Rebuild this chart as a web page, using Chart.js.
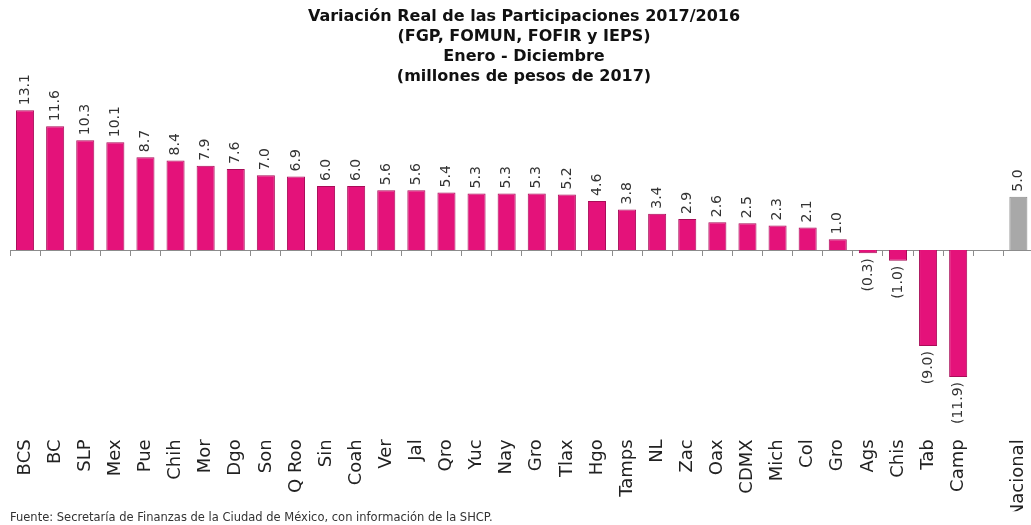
<!DOCTYPE html>
<html>
<head>
<meta charset="utf-8">
<script src="https://cdn.jsdelivr.net/npm/chart.js@4.4.1/dist/chart.umd.min.js"></script>
<style>
    html, body { margin: 0; padding: 0; background: #fff; overflow: hidden; }
    #chart { display: block; }
</style>
</head>
<body>
<canvas id="chart" width="1040" height="525"></canvas>
<script>
// estados (hueco vacio antes de Nacional)
const estados = ['BCS', 'BC', 'SLP', 'Mex', 'Pue', 'Chih', 'Mor', 'Dgo', 'Son', 'Q Roo',
    'Sin', 'Coah', 'Ver', 'Jal', 'Qro', 'Yuc', 'Nay', 'Gro', 'Tlax', 'Hgo',
    'Tamps', 'NL', 'Zac', 'Oax', 'CDMX', 'Mich', 'Col', 'Gro', 'Ags', 'Chis',
    'Tab', 'Camp', '', 'Nacional'];

const variacion = [13.1, 11.6, 10.3, 10.1, 8.7, 8.4, 7.9, 7.6, 7.0, 6.9,
    6.0, 6.0, 5.6, 5.6, 5.4, 5.3, 5.3, 5.3, 5.2, 4.6,
    3.8, 3.4, 2.9, 2.6, 2.5, 2.3, 2.1, 1.0, -0.3, -1.0,
    -9.0, -11.9, null, 5.0];

const titulo = [
    'Variación Real de las Participaciones 2017/2016',
    '(FGP, FOMUN, FOFIR y IEPS)',
    'Enero - Diciembre',
    '(millones de pesos de 2017)'
];
const fuente = 'Fuente: Secretaría de Finanzas de la Ciudad de México, con información de la SHCP.';

const rosa = '#E4127A';
const rosaBorde = '#A80C58';
const gris = '#A8A8A8';
const grisBorde = '#8A8A8A';

let colores = [];
let bordes = [];
for (let i = 0; i < estados.length; i++) {
    let nacional = estados[i] === 'Nacional';
    colores.push(nacional ? gris : rosa);
    bordes.push(nacional ? grisBorde : rosaBorde);
}

function formato(v) {
    return v < 0 ? '(' + Math.abs(v).toFixed(1) + ')' : v.toFixed(1);
}

// etiquetas de valor giradas sobre / bajo cada barra
const etiquetas = {
    id: 'etiquetas',
    afterDatasetsDraw(chart) {
        const ctx = chart.ctx;
        const meta = chart.getDatasetMeta(0);
        ctx.save();
        ctx.font = '14px "DejaVu Sans"';
        ctx.fillStyle = '#333';
        ctx.textBaseline = 'middle';
        meta.data.forEach((bar, i) => {
            let v = variacion[i];
            if (v === null) return;
            ctx.save();
            if (v >= 0) {
                ctx.translate(bar.x, bar.y - 5);
                ctx.rotate(-Math.PI / 2);
                ctx.textAlign = 'left';
            } else {
                ctx.translate(bar.x, bar.y + 5);
                ctx.rotate(-Math.PI / 2);
                ctx.textAlign = 'right';
            }
            ctx.fillText(formato(v), 0, 0);
            ctx.restore();
        });
        ctx.restore();
    }
};

new Chart(document.getElementById('chart'), {
    type: 'bar',
    data: {
        labels: estados,
        datasets: [{
            data: variacion,
            backgroundColor: colores,
            borderColor: bordes,
            borderWidth: 1,
            barPercentage: 0.6,
            categoryPercentage: 1.0
        }]
    },
    options: {
        responsive: false,
        animation: false,
        devicePixelRatio: 1,
        layout: { padding: { left: 10, right: 2 } },
        plugins: {
            legend: { display: false },
            tooltip: { enabled: false },
            title: {
                display: true,
                text: titulo,
                color: '#111',
                font: { family: 'DejaVu Sans', size: 16, weight: 'bold', lineHeight: 20 / 16 },
                padding: { top: 7, bottom: 3 }
            },
            subtitle: {
                display: true,
                text: fuente,
                position: 'bottom',
                align: 'start',
                color: '#333',
                font: { family: 'DejaVu Sans', size: 11.5, lineHeight: 1.1 },
                padding: { top: 0, bottom: 1 }
            }
        },
        scales: {
            y: {
                display: false,
                min: -17,
                max: 15
            },
            x: {
                offset: true,
                grid: { display: false },
                border: { display: false },
                ticks: {
                    color: '#222',
                    font: { family: 'DejaVu Sans', size: 18 },
                    maxRotation: 90,
                    minRotation: 90,
                    padding: 0,
                    autoSkip: false
                },
                afterFit(scale) { scale.height = 80; }
            },
            x2: {
                type: 'category',
                position: { y: 0 },
                offset: true,
                grid: {
                    offset: true,
                    drawOnChartArea: false,
                    drawTicks: true,
                    tickLength: 5,
                    color: '#8c8c8c'
                },
                border: { display: true, color: '#8c8c8c' },
                ticks: { display: false, autoSkip: false }
            }
        }
    },
    plugins: [etiquetas]
});
</script>
</body>
</html>
